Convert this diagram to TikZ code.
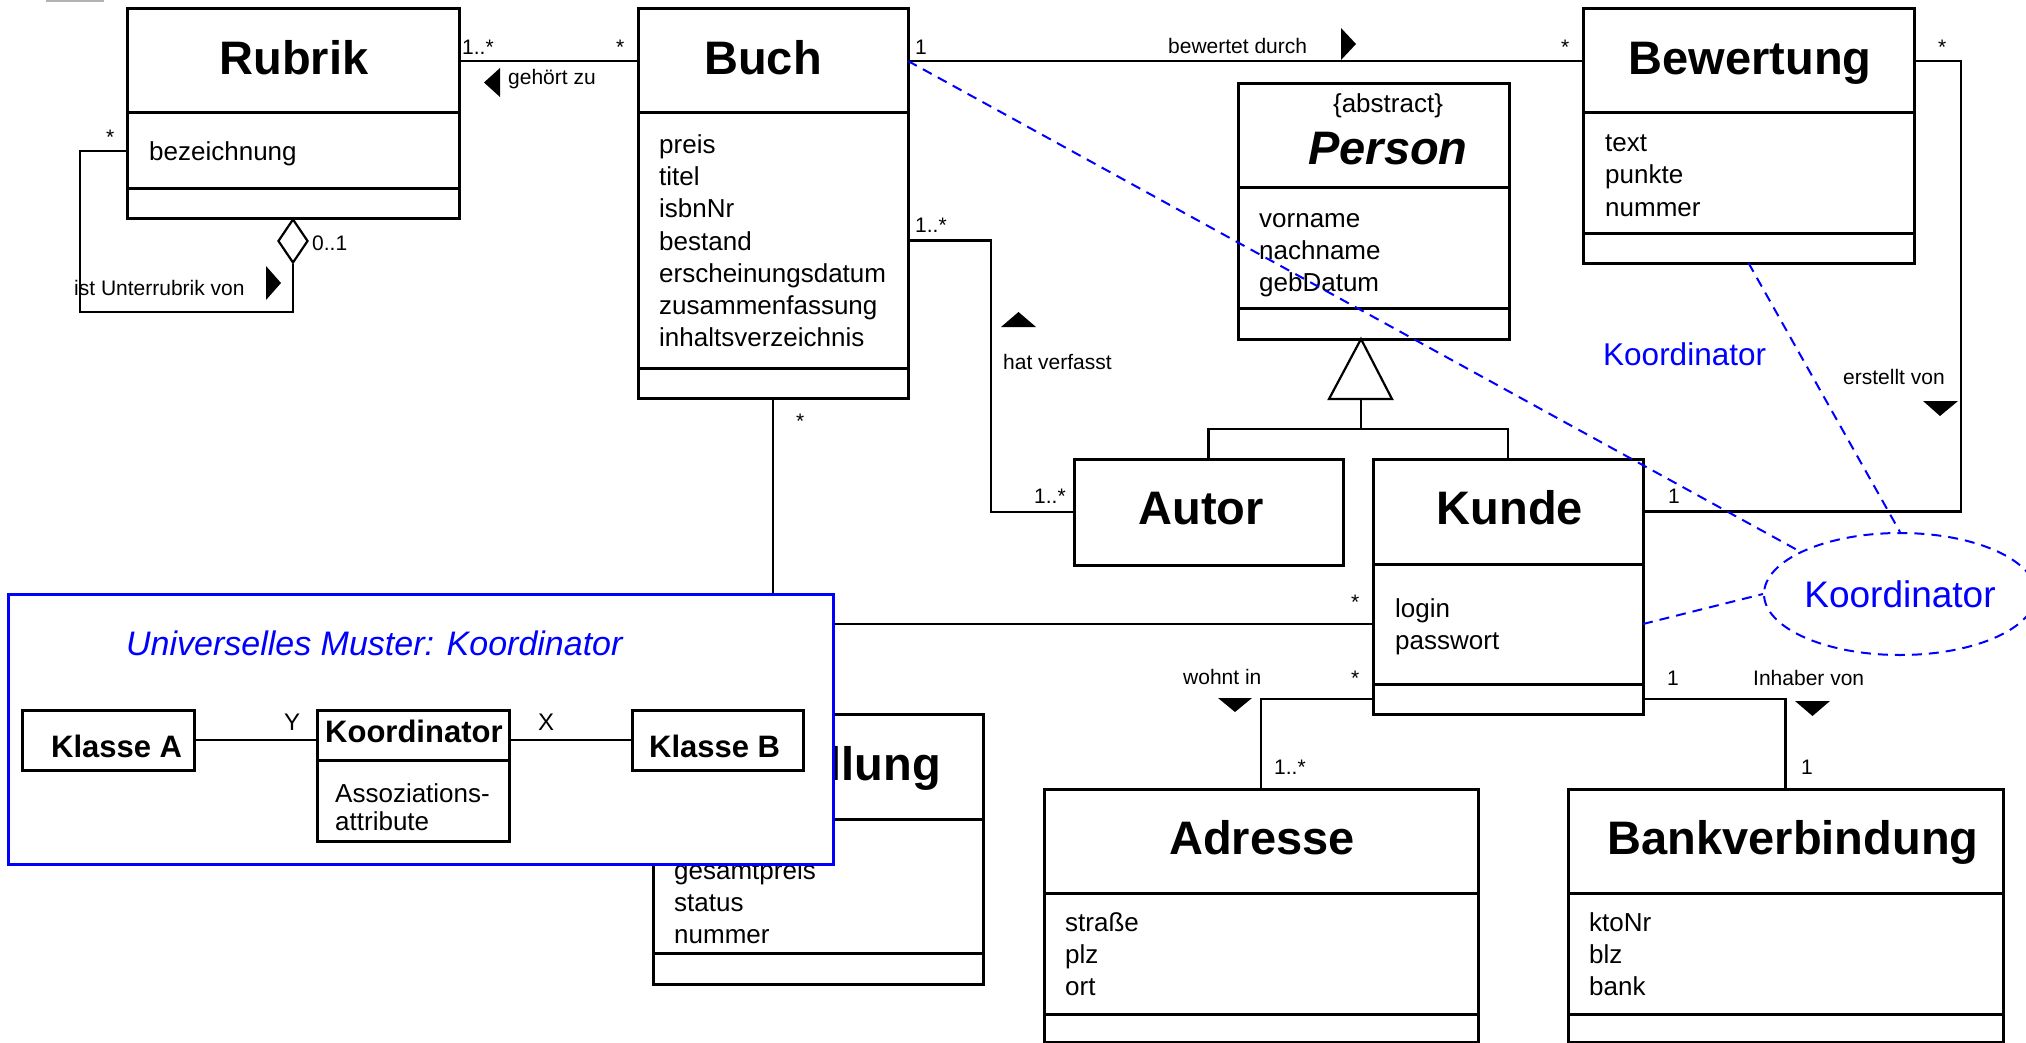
\documentclass[tikz,border=0pt]{standalone}
\usepackage{fontspec}
\setmainfont{Liberation Sans}
\usetikzlibrary{shapes.geometric}

% one compartment of a class box, given by its corners
\newcommand{\umlbox}[5]{%
  \node[cls, minimum width={(#4-(#2))*1pt}, minimum height={(#5-(#3))*1pt}]
    (#1) at ({(#2+#4)/2},{(#3+#5)/2}) {};}

\begin{document}
\begin{tikzpicture}[x=1pt,y=-1pt,
  cls/.style={draw, line width=3pt, fill=white, inner sep=0pt, outer sep=0pt},
  ttl/.style={anchor=base, inner sep=0pt, font=\fontsize{47}{56}\selectfont\bfseries},
  attr/.style={anchor=base west, inner sep=0pt, font=\fontsize{26}{32}\selectfont},
  lbl/.style={anchor=base west, inner sep=0pt, font=\fontsize{21}{25}\selectfont},
  smallcls/.style={anchor=base west, inner sep=0pt, font=\fontsize{31}{36}\selectfont\bfseries},
  assoc/.style={line width=2.2pt},
  readdir/.style={fill=black},
  coordline/.style={blue, line width=2pt, dash pattern=on 10pt off 7pt},
]
\useasboundingbox (0,0) rectangle (2026,1043);
\clip (0,0) rectangle (2026,1043);
\fill[white] (0,0) rectangle (2026,1043);
\fill[black!30] (46,0) rectangle (104,2.5);

% ---------------- class boxes ----------------
\umlbox{rubrik}{127}{9}{459}{113}
\umlbox{rubrikA}{127}{113}{459}{189}
\umlbox{rubrikO}{127}{189}{459}{219}

\umlbox{buch}{638}{9}{908}{113}
\umlbox{buchA}{638}{113}{908}{368}
\umlbox{buchO}{638}{368}{908}{398}

\umlbox{bew}{1583}{9}{1914}{113}
\umlbox{bewA}{1583}{113}{1914}{233}
\umlbox{bewO}{1583}{233}{1914}{263}

\umlbox{person}{1238}{84}{1509}{188}
\umlbox{personA}{1238}{188}{1509}{308}
\umlbox{personO}{1238}{308}{1509}{339}

\umlbox{autor}{1074}{459}{1343}{565}

\umlbox{kunde}{1373}{459}{1643}{564}
\umlbox{kundeA}{1373}{564}{1643}{684}
\umlbox{kundeO}{1373}{684}{1643}{714}

\umlbox{best}{653}{714}{983}{819}
\umlbox{bestA}{653}{819}{983}{953}
\umlbox{bestO}{653}{953}{983}{984}

\umlbox{adr}{1044}{789}{1478}{893}
\umlbox{adrA}{1044}{893}{1478}{1014}
\umlbox{adrO}{1044}{1014}{1478}{1042}

\umlbox{bank}{1568}{789}{2003}{893}
\umlbox{bankA}{1568}{893}{2003}{1014}
\umlbox{bankO}{1568}{1014}{2003}{1042}

% ---------------- class names ----------------
\node[ttl] (rubrikT) at (294,75) {Rubrik};
\node[ttl] (buchT) at (763,75) {Buch};
\node[ttl] (bewT) at (1750,75) {Bewertung};
\node[anchor=base, inner sep=0pt, font=\fontsize{26}{32}\selectfont] (personS) at (1388,113) {\{abstract\}};
\node[ttl, font=\fontsize{47}{56}\selectfont\bfseries\itshape] (personT) at (1388,165) {Person};
\node[ttl] (autorT) at (1201,524) {Autor};
\node[ttl] (kundeT) at (1510,524) {Kunde};
\node[ttl] (bestT) at (821,780) {Bestellung};
\node[ttl] (adrT) at (1262,854) {Adresse};
\node[ttl] (bankT) at (1793,854) {Bankverbindung};

% ---------------- attributes ----------------
\node[attr] (rubrikAttr) at (149,161) {bezeichnung};
\foreach \t [count=\i from 0] in {preis,titel,isbnNr,bestand,erscheinungsdatum,zusammenfassung,inhaltsverzeichnis}
  \node[attr] (buchAttr\i) at (659,{154+32*\i}) {\t};
\foreach \t [count=\i from 0] in {text,punkte,nummer}
  \node[attr] (bewAttr\i) at (1605,{152+32*\i}) {\t};
\foreach \t [count=\i from 0] in {vorname,nachname,gebDatum}
  \node[attr] (personAttr\i) at (1259,{227+32*\i}) {\t};
\foreach \t [count=\i from 0] in {login,passwort}
  \node[attr] (kundeAttr\i) at (1395,{617+32*\i}) {\t};
\foreach \t [count=\i from 0] in {gesamtpreis,status,nummer}
  \node[attr] (bestAttr\i) at (674,{879+32*\i}) {\t};
\foreach \t [count=\i from 0] in {straße,plz,ort}
  \node[attr] (adrAttr\i) at (1065,{931+32*\i}) {\t};
\foreach \t [count=\i from 0] in {ktoNr,blz,bank}
  \node[attr] (bankAttr\i) at (1589,{931+32*\i}) {\t};

% ---------------- associations ----------------
\coordinate (selfL) at (80,312);
\coordinate (autL) at (991,0);
\coordinate (bewR) at (1961,0);
\coordinate (gen) at (1361,429);
\coordinate (genTip) at (1361,339);
\coordinate (genBase) at (1361,399);

\draw[assoc] (rubrik.east) -- (buch.west);
\draw[assoc] (buch.east) -- (bew.west);
\node[draw, line width=2.2pt, fill=white, diamond, inner sep=0pt, minimum width=30pt, minimum height=44pt] (agg) at (293,241) {};
\draw[assoc] (rubrikA.west) -| (selfL) -| (agg.south);
\draw[assoc] (buchA.east) -| (autL |- autor.west) -- (autor.west);
\draw[assoc] (bew.east) -| (bewR |- kunde.east) -- (kunde.east);
\draw[assoc] (buchO.south) -- (buchO.south |- best.north);
\draw[assoc] (kundeA.west) -- (kundeA.west -| buchO.south);
\draw[assoc] (kundeO.west) -| (adr.north);
\draw[assoc] (kundeO.east) -| (bank.north);

% generalisation Person <- Autor, Kunde
\draw[assoc] (autor.north) |- (gen) -| (kunde.north);
\draw[assoc] (gen) -- (genBase);
\draw[assoc, fill=white] (genTip) -- (1392,399) -- (1329,399) -- cycle;

% reading directions
\fill[readdir] (484,82.5) -- (500,68) -- (500,97) -- cycle;
\fill[readdir] (281,283) -- (266,266) -- (266,300) -- cycle;
\fill[readdir] (1356,44) -- (1341,28) -- (1341,60) -- cycle;
\fill[readdir] (1018.5,312) -- (1001,327) -- (1036,327) -- cycle;
\fill[readdir] (1940,416) -- (1923,401) -- (1958,401) -- cycle;
\fill[readdir] (1235,712) -- (1218,698) -- (1252,698) -- cycle;
\fill[readdir] (1812.5,716) -- (1795,701) -- (1830,701) -- cycle;

% ---------------- association labels ----------------
\node[lbl] (m1) at (462,55) {1..*};
\node[lbl] (m2) at (616,55) {*};
\node[lbl] (n1) at (508,85) {gehört zu};
\node[lbl] (m3) at (106,145) {*};
\node[lbl] (m4) at (312,250) {0..1};
\node[lbl] (n2) at (74,295) {ist Unterrubrik von};
\node[lbl] (m5) at (915,55) {1};
\node[lbl] (n3) at (1168,54) {bewertet durch};
\node[lbl] (m6) at (1561,55) {*};
\node[lbl] (m7) at (1938,55) {*};
\node[lbl] (m8) at (915,233) {1..*};
\node[lbl] (n4) at (1003,369) {hat verfasst};
\node[lbl] (m9) at (1034,503) {1..*};
\node[lbl] (m10) at (1668,503) {1};
\node[lbl] (n5) at (1843,384) {erstellt von};
\node[lbl] (m11) at (1351,609) {*};
\node[lbl] (m12) at (796,428) {*};
\node[lbl] (n6) at (1183,684) {wohnt in};
\node[lbl] (m13) at (1351,685) {*};
\node[lbl] (m14) at (1667,685) {1};
\node[lbl] (n7) at (1753,685) {Inhaber von};
\node[lbl] (m15) at (1274,774) {1..*};
\node[lbl] (m16) at (1801,774) {1};

% ---------------- pattern panel ----------------
\node[draw=blue, line width=3pt, fill=white, inner sep=0pt, minimum width=825pt, minimum height=270pt] (frame) at (420.5,729) {};
\node[anchor=base west, inner sep=0pt, text=blue, font=\fontsize{34}{40}\selectfont\itshape] (frameT) at (126,655) {Universelles Muster: Koordinator};
\umlbox{klasseA}{22.5}{710}{194}{770}
\umlbox{koordH}{317.5}{710}{509}{760}
\umlbox{koordA}{317.5}{760}{509}{841}
\umlbox{klasseB}{632}{710}{803}{770}
\node[smallcls] (klasseAT) at (51,757) {Klasse A};
\node[smallcls] (koordHT) at (325,742) {Koordinator};
\node[smallcls] (klasseBT) at (649,757) {Klasse B};
\node[attr] (koordAttr0) at (335,802) {Assoziations-};
\node[attr] (koordAttr1) at (335,830) {attribute};
\draw[assoc] (klasseA.east) -- (klasseA.east -| koordH.west);
\draw[assoc] (klasseB.west -| koordH.east) -- (klasseB.west);
\node[attr, font=\fontsize{24}{30}\selectfont] (yLbl) at (284,730) {Y};
\node[attr, font=\fontsize{24}{30}\selectfont] (xLbl) at (538,730) {X};

% ---------------- coordinator annotation ----------------
\node[coordline, ellipse, draw, inner sep=0pt, minimum width=272pt, minimum height=122pt,
      text=blue, font=\fontsize{37}{44}\selectfont] (koord) at (1900,594) {Koordinator};
\node[anchor=base west, inner sep=0pt, text=blue, font=\fontsize{31.5}{38}\selectfont] (koordLbl) at (1603,365) {Koordinator};
\draw[coordline] (buch.east) -- (koord.157);
\draw[coordline] (bewO.south) -- (koord.90);
\draw[coordline] (kundeA.east) -- (koord.west);
\end{tikzpicture}
\end{document}
